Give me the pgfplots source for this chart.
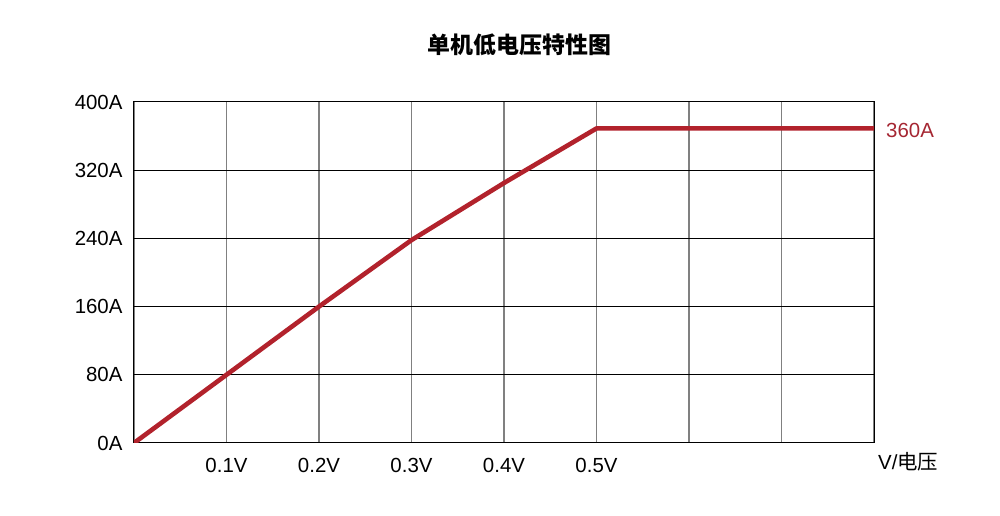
\documentclass[border=0pt]{standalone}
\usepackage{fontspec}
\setmainfont{Liberation Sans}
\newfontfamily\cjk{Noto Sans CJK SC}
\usepackage{pgfplots}
\pgfplotsset{compat=1.18}
\usetikzlibrary{calc}
\definecolor{curvered}{RGB}{178,34,44}
\definecolor{labelred}{RGB}{165,38,50}
\definecolor{gridgray}{RGB}{128,128,128}
\newcommand{\lblfont}{\fontsize{20.5}{23}\selectfont}

\begin{document}
\begin{tikzpicture}
\begin{axis}[
    scale only axis,
    width=740bp, height=341bp,
    xmin=0, xmax=0.8,
    ymin=0, ymax=400,
    xtick={0,0.1,0.2,0.3,0.4,0.5,0.6,0.7,0.8},
    xticklabels={,0.1V,0.2V,0.3V,0.4V,0.5V,,,},
    ytick={0,80,160,240,320,400},
    yticklabels={0A,80A,160A,240A,320A,400A},
    major tick length=0pt,
    tick label style={font=\lblfont, text=black},
    xticklabel style={anchor=north, yshift=-12bp},
    yticklabel style={anchor=east, xshift=-8bp},
    axis line style={black, line width=1bp},
    grid=major,
    x grid style={gridgray, line width=1.8bp},
    y grid style={black, line width=1bp},
]
\addplot[curvered, line width=4.6bp, line join=round] coordinates {
    (0,0) (0.1,80) (0.2,160) (0.3,238) (0.4,305) (0.5,369) (0.8,369)
};
\coordinate (sw) at (rel axis cs:0,0);
\coordinate (se) at (rel axis cs:1,0);
\coordinate (ne) at (rel axis cs:1,1);
\coordinate (nmid) at (rel axis cs:0.5,1);
\coordinate (plateau) at (axis cs:0.8,369);
\end{axis}
\node[anchor=west, text=labelred, font=\lblfont, inner sep=0pt, xshift=12bp, yshift=-2bp] at (plateau) {360A};
\node[anchor=north west, font=\lblfont, inner sep=0pt, xshift=4bp, yshift=-9bp] at (se) {V/{\cjk 电压}};
\node[font=\fontsize{23}{26}\selectfont\cjk\bfseries, inner sep=0pt, yshift=57bp, xshift=15.5bp] at (nmid) {单机低电压特性图};
\pgfresetboundingbox
\path ($(sw)+(-134bp,-73bp)$) rectangle ($(ne)+(126bp,102bp)$);
\end{tikzpicture}
\end{document}
